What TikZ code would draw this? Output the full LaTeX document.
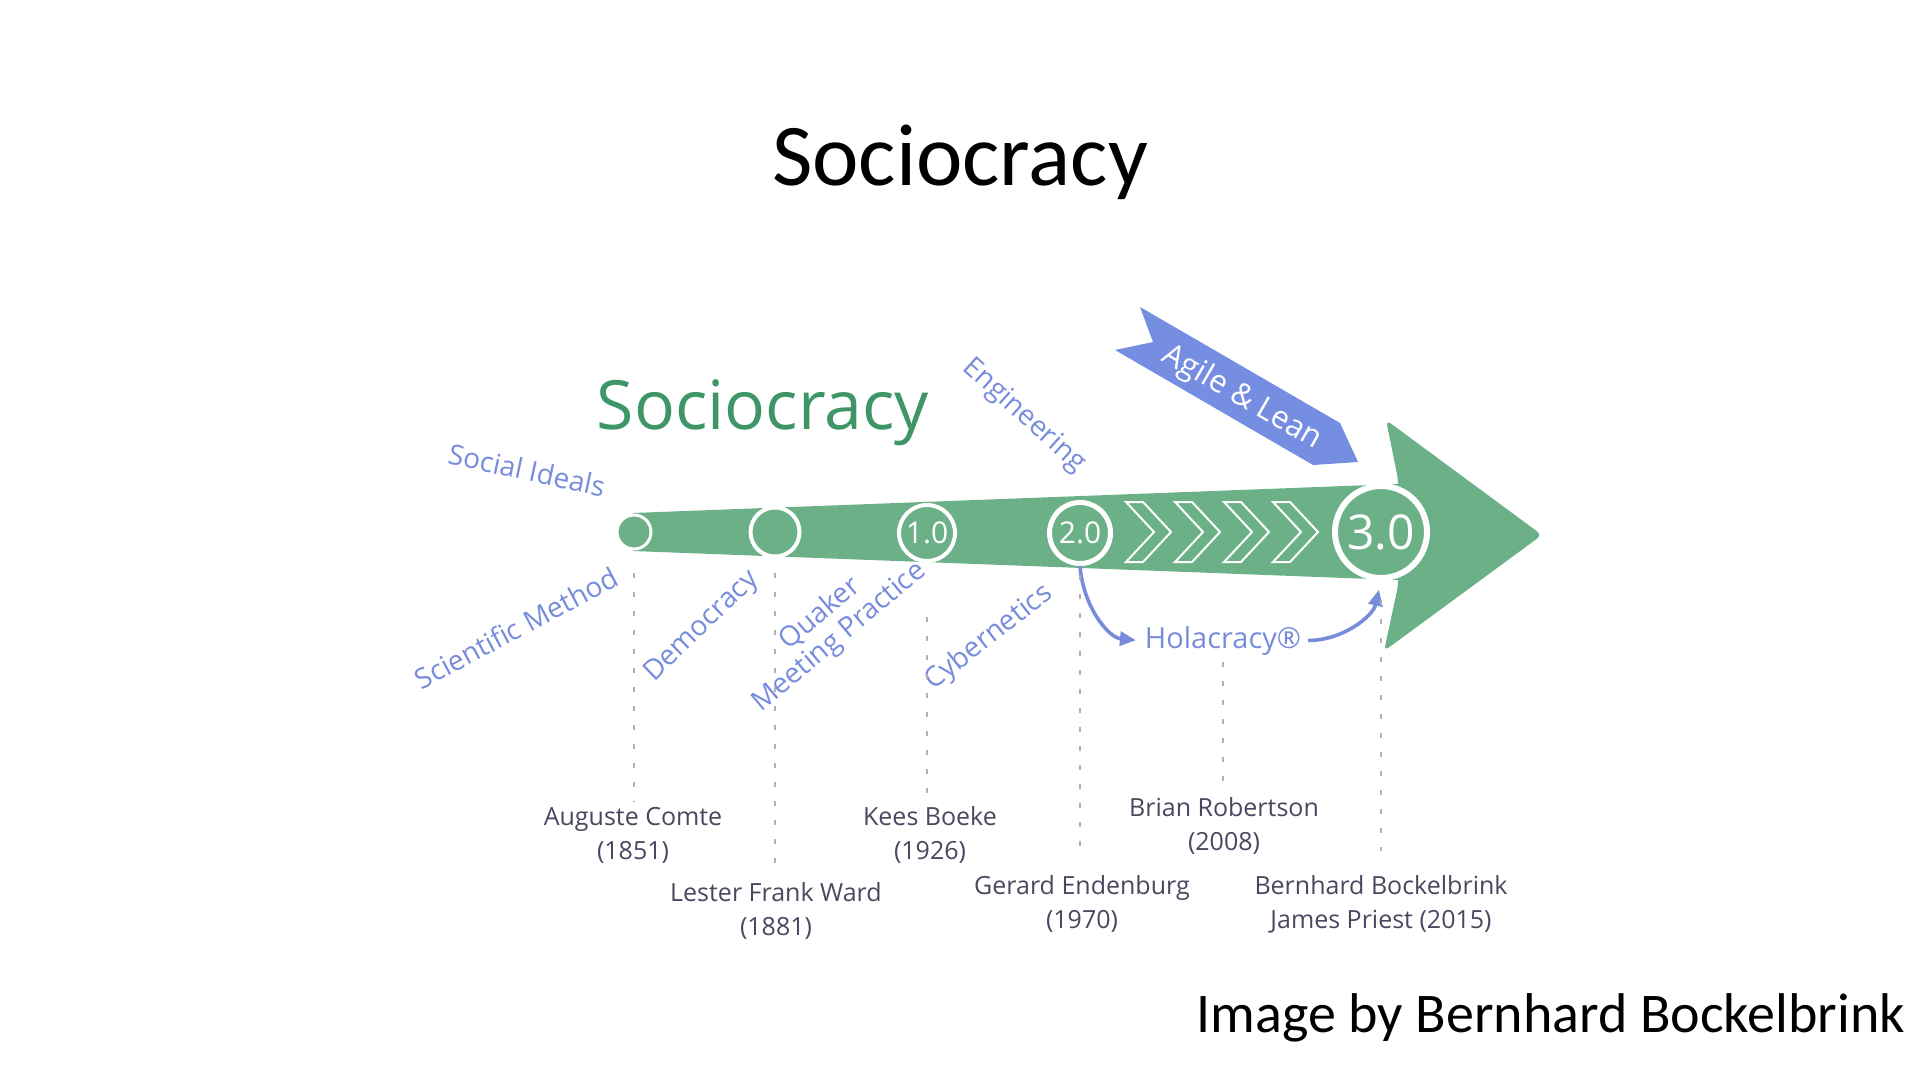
\documentclass[tikz,border=0pt]{standalone}
\usepackage{fontspec}
\setmainfont{Carlito}
\newfontfamily\osans{Open Sans}
\usetikzlibrary{arrows.meta}
\definecolor{arrowgreen}{RGB}{108,176,136}
\definecolor{textgreen}{RGB}{62,150,102}
\definecolor{labelblue}{RGB}{120,140,220}
\definecolor{bannerblue}{RGB}{118,142,226}
\definecolor{persongray}{RGB}{72,72,96}
\definecolor{dotgray}{RGB}{175,175,175}
\tikzset{
  lab/.style={font=\osans\fontsize{14}{15}\selectfont, text=labelblue},
  person/.style={font=\osans\fontsize{12.5}{17}\selectfont, text=persongray, align=center, inner sep=0pt},
  ring/.style={circle, fill=arrowgreen, draw=white, inner sep=0pt, text=white},
  dotline/.style={draw=dotgray, line width=1pt, dash pattern=on 2.5pt off 7pt},
  bluearrow/.style={draw=labelblue, line width=1.8pt, -{Triangle[length=8pt,width=7pt]}},
  chev/.style={draw=white, line width=1pt}
}
\begin{document}
\begin{tikzpicture}[x=0.5pt,y=-0.5pt]
\useasboundingbox (0,0) rectangle (1920,1080);
\fill[white] (0,0) rectangle (1920,1080);

% titles
\node[anchor=base, font=\fontsize{44}{52}\selectfont] (title) at (960,186) {Sociocracy};
\node[anchor=base east, font=\fontsize{28}{34}\selectfont] (credit) at (1912,1032) {Image by Bernhard Bockelbrink};

% green arrow
\fill[arrowgreen] (633,513) -- (1398,484) -- (1398,580) -- (633,551) -- cycle;
\fill[arrowgreen, rounded corners=3pt] (1386,420) -- (1542,535) -- (1384,651) -- (1398,586) -- (1398,479) -- cycle;

% chevrons
\foreach \k in {0,...,3}{
  \draw[chev] ({1126+49*\k},502) -- ++(17,0) -- ++(28,30) -- ++(-28,30) -- ++(-17,0) -- ++(28,-30) -- cycle;
}

% circles
\node[ring, line width=1.5pt, minimum size=17pt] (c0) at (634,532) {};
\node[ring, line width=2pt, minimum size=24.5pt] (c1) at (775,532) {};
\node[ring, line width=2pt, minimum size=28pt, font=\osans\fontsize{15}{18}\selectfont] (c2) at (927,533) {1.0};
\node[ring, line width=2.5pt, minimum size=30.5pt, font=\osans\fontsize{15}{18}\selectfont] (c3) at (1080,533) {2.0};
\node[ring, line width=3pt, minimum size=46pt, font=\osans\fontsize{24}{28}\selectfont] (c4) at (1381,532) {3.0};

% green heading
\node[anchor=base, font=\osans\fontsize{34}{40}\selectfont, text=textgreen] (brand) at (763,429) {Sociocracy};

% Agile & Lean banner
\fill[bannerblue] (1140,307) -- (1340,423) -- (1358,462) -- (1313,465) -- (1115,350) -- (1153,342) -- cycle;
\node[rotate=-30, text=white, font=\osans\fontsize{15.5}{18}\selectfont] (agile) at (1242,398) {Agile \& Lean};

% blue labels
\node[lab, rotate=-12] (social) at (527,470) {Social Ideals};
\node[lab, rotate=28] (sci) at (516,628) {Scientific Method};
\node[lab, rotate=44] (demo) at (702,627) {Democracy};
\node[lab, rotate=40, align=center] (quaker) at (830,626) {Quaker\\Meeting Practice};
\node[lab, rotate=38] (cyber) at (989,638) {Cybernetics};
\node[lab, rotate=-42] (eng) at (1024,416) {Engineering};
\node[lab, anchor=base, font=\osans\fontsize{14.5}{17}\selectfont] (hola) at (1223,648) {Holacracy®};

% Holacracy arrows
\draw[bluearrow, shorten >=1pt] (c3.south) .. controls +(3,40) and +(-30,-3) .. (hola.west);
\draw[bluearrow, shorten >=4.5pt] (hola.east) .. controls +(35,0) and +(-8,35) .. (c4.south);

% people
\node[person] (comte) at (633,835) {Auguste Comte\\(1851)};
\node[person] (ward) at (776,911) {Lester Frank Ward\\(1881)};
\node[person] (boeke) at (930,835) {Kees Boeke\\(1926)};
\node[person] (endenburg) at (1082,904) {Gerard Endenburg\\(1970)};
\node[person] (robertson) at (1224,826) {Brian Robertson\\(2008)};
\node[person] (bock) at (1381,904) {Bernhard Bockelbrink\\James Priest (2015)};

% dotted lines
\draw[dotline, shorten <=11pt, shorten >=3pt] (c0.south) -- (c0.south |- comte.north);
\draw[dotline, shorten <=7pt, shorten >=3pt] (c1.south) -- (c1.south |- ward.north);
\draw[dotline, shorten <=27pt, shorten >=5pt] (c2.south) -- (c2.south |- boeke.north);
\draw[dotline, shorten <=4.5pt, shorten >=8pt] (c3.south) -- (c3.south |- endenburg.north);
\draw[dotline, shorten <=0pt, shorten >=7pt] (hola.south) -- (hola.south |- robertson.north);
\draw[dotline, shorten <=9.5pt, shorten >=12pt] (c4.south) -- (c4.south |- bock.north);
\end{tikzpicture}
\end{document}
